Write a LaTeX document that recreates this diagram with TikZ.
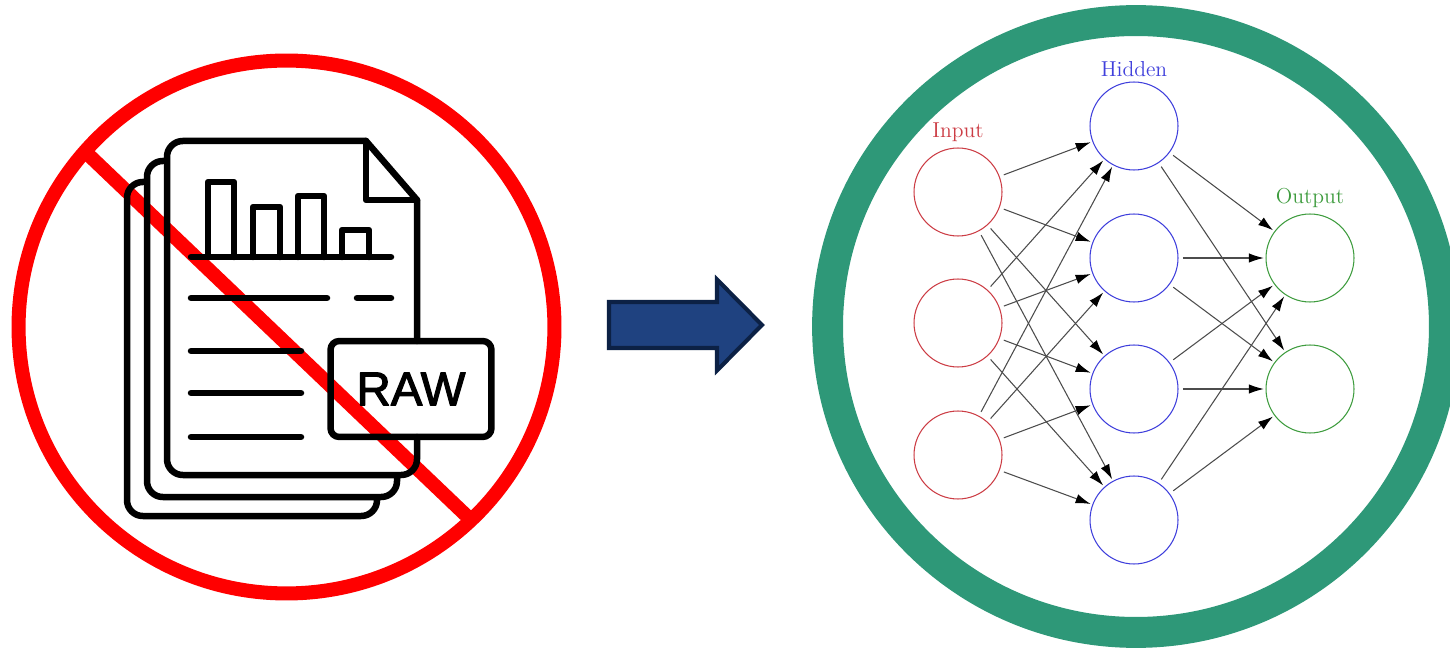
\documentclass[tikz,border=0pt]{standalone}
\usepackage{fontspec}
\usetikzlibrary{arrows.meta}
\newfontfamily\rawfont[FakeBold=2.4]{Liberation Sans}
\definecolor{ringgreen}{HTML}{2E9878}
\definecolor{arrowblue}{HTML}{1F4280}
\definecolor{arrowedge}{HTML}{0C2145}
\definecolor{inputred}{HTML}{CC3D45}
\definecolor{hiddenblue}{HTML}{3F3FDC}
\definecolor{outputgreen}{HTML}{3E9C3E}

\begin{document}
\begin{tikzpicture}[x=0.02cm, y=-0.02cm]
   \tikzstyle{every label}=[font=\fontsize{12.3}{14}\selectfont]
   \tikzstyle{sheet}=[draw, line width=3.7pt, line join=round, line cap=round]
   \tikzstyle{neuron}=[draw, circle, line width=0.6pt, minimum size=1.76cm, inner sep=0pt, label distance=-2pt]
   \tikzstyle{input neuron}=[neuron, inputred]
   \tikzstyle{hidden neuron}=[neuron, hiddenblue]
   \tikzstyle{output neuron}=[neuron, outputgreen]
   \tikzstyle{synapse}=[draw=black!70, line width=0.6pt, shorten <=2.5pt, shorten >=1pt, -{Latex[length=8.5pt,width=5.4pt,black]}]

\path[use as bounding box, clip] (0,0) rectangle (1450,648);
\fill[white] (0,0) rectangle (1450,648);

\draw[red, line width=8pt] (286.5,327) circle [x radius=5.36cm, y radius=5.33cm];
\draw[red, line width=8pt] (84.5,151) -- (472,521);

\draw[sheet, rounded corners=9pt] (366,141) -- (167,141) -- (167,475) -- (417,475) -- (417,437);
\draw[sheet] (366,141) -- (417,200) -- (417,341);
\draw[sheet] (366,141) -- (366,200) -- (417,200);
\draw[sheet, rounded corners=9pt] (164,161) -- (147,161) -- (147,497) -- (397,497) -- (397,478);
\draw[sheet, rounded corners=9pt] (144,182) -- (127,182) -- (127,516) -- (377,516) -- (377,498);

\foreach \bx/\bw/\bt in {208/234/182, 253/280/207, 298/324/196, 342/369/230}
   \draw[sheet] (\bx,257) -- (\bx,\bt) -- (\bw,\bt) -- (\bw,257);
\draw[sheet] (191,257) -- (391,257);
\draw[sheet] (191,298) -- (327,298);
\draw[sheet] (357,298) -- (391,298);
\foreach \ly in {351, 393, 437}
   \draw[sheet] (191,\ly) -- (301,\ly);

\node[sheet, rounded corners=5pt, minimum width=3.22cm, minimum height=1.92cm, inner sep=0pt, font=\rawfont\fontsize{27}{29}\selectfont] (raw) at (411,389) {RAW};

\draw[draw=arrowedge, fill=arrowblue, line width=2.3pt, miter limit=10] (609,302) -- (717,302) -- (717,279.5) -- (762,325) -- (717,370.5) -- (717,348) -- (609,348) -- cycle;

\draw[ringgreen, line width=17.6pt] (1136,326.5) circle [x radius=6.17cm, y radius=6.12cm];

\node[input neuron, label={[inputred]90:Input}] (i1) at (958,192) {};
\node[input neuron] (i2) at (958,323) {};
\node[input neuron] (i3) at (958,455) {};
\node[hidden neuron, label={[hiddenblue, yshift=-1pt]90:Hidden}] (h1) at (1134,126) {};
\node[hidden neuron] (h2) at (1134,258) {};
\node[hidden neuron] (h3) at (1134,389) {};
\node[hidden neuron] (h4) at (1134,520) {};
\node[output neuron, label={[outputgreen]90:Output}] (o1) at (1310,258) {};
\node[output neuron] (o2) at (1310,389) {};

\foreach \a in {1,2,3}
   \foreach \b in {1,2,3,4}
      \path[synapse] (i\a) -- (h\b);
\foreach \b in {1,2,3,4}
   \foreach \c in {1,2}
      \path[synapse] (h\b) -- (o\c);

\end{tikzpicture}
\end{document}
